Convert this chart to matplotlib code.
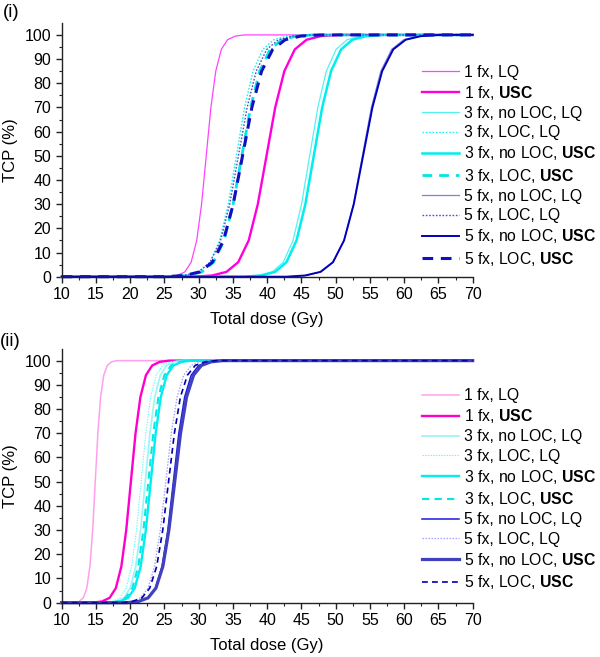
import matplotlib
matplotlib.use("Agg")
import matplotlib.pyplot as plt
from matplotlib.ticker import MultipleLocator

plt.rcParams['font.family'] = ['Liberation Sans', 'DejaVu Sans']
plt.rcParams['mathtext.fontset'] = 'custom'
plt.rcParams['mathtext.rm'] = 'Liberation Sans'
plt.rcParams['mathtext.bf'] = 'Liberation Sans:bold'

# ---------------- data ----------------
# TCP levels (%) shared by every curve; each dose list gives the total dose (Gy)
# at which the curve reaches these TCP levels.
tcp_levels = [0, 0, 0.5, 2, 6, 15, 30, 50, 70, 85, 94, 98, 99.5, 100, 100]

labels = ["1 fx, LQ", r"1 fx, $\mathbf{USC}$",
          "3 fx, no LOC, LQ", "3 fx, LOC, LQ",
          r"3 fx, no LOC, $\mathbf{USC}$", r"3 fx, LOC, $\mathbf{USC}$",
          "5 fx, no LOC, LQ", "5 fx, LOC, LQ",
          r"5 fx, no LOC, $\mathbf{USC}$", r"5 fx, LOC, $\mathbf{USC}$"]

# panel (i)
dose_i_1fx_lq = [10, 25.5, 26.87, 27.99, 28.9, 29.71, 30.42, 31.1, 31.78, 32.49, 33.3, 34.21, 35.33, 36.7, 70]
dose_i_1fx_usc = [10, 29.4, 31.96, 34.06, 35.77, 37.3, 38.63, 39.9, 41.17, 42.5, 44.03, 45.74, 47.84, 50.4, 70]
dose_i_3fx_noloc_lq = [10, 36.4, 38.79, 40.75, 42.35, 43.77, 45.01, 46.2, 47.39, 48.63, 50.05, 51.65, 53.61, 56.0, 70]
dose_i_3fx_loc_lq = [10, 25.7, 28.09, 30.05, 31.65, 33.07, 34.31, 35.5, 36.69, 37.93, 39.35, 40.95, 42.91, 45.3, 70]
dose_i_3fx_noloc_usc = [10, 36.65, 39.13, 41.16, 42.81, 44.28, 45.57, 46.8, 48.03, 49.32, 50.79, 52.44, 54.47, 56.95, 70]
dose_i_3fx_loc_usc = [10, 25.8, 28.36, 30.46, 32.17, 33.7, 35.03, 36.3, 37.57, 38.9, 40.43, 42.14, 44.24, 46.8, 70]
dose_i_5fx_noloc_lq = [10, 43.05, 45.7, 47.87, 49.64, 51.21, 52.59, 53.9, 55.21, 56.59, 58.16, 59.93, 62.1, 64.75, 70]
dose_i_5fx_loc_lq = [10, 25.3, 27.86, 29.96, 31.67, 33.2, 34.53, 35.8, 37.07, 38.4, 39.93, 41.64, 43.74, 46.3, 70]
dose_i_5fx_noloc_usc = [10, 42.8, 45.54, 47.78, 49.6, 51.22, 52.64, 54.0, 55.36, 56.78, 58.4, 60.22, 62.46, 65.2, 70]
dose_i_5fx_loc_usc = [10, 25.2, 27.94, 30.18, 32.0, 33.62, 35.04, 36.4, 37.76, 39.18, 40.8, 42.62, 44.86, 47.6, 70]

# panel (ii)
dose_ii_1fx_lq = [10, 11.75, 12.52, 13.15, 13.66, 14.12, 14.52, 14.9, 15.28, 15.68, 16.14, 16.65, 17.28, 18.05, 70]
dose_ii_1fx_usc = [10, 14.5, 15.87, 16.99, 17.9, 18.71, 19.42, 20.1, 20.78, 21.49, 22.3, 23.21, 24.33, 25.7, 70]
dose_ii_3fx_noloc_lq = [10, 16.6, 17.97, 19.09, 20.0, 20.81, 21.52, 22.2, 22.88, 23.59, 24.4, 25.31, 26.43, 27.8, 70]
dose_ii_3fx_loc_lq = [10, 16.0, 17.37, 18.49, 19.4, 20.21, 20.92, 21.6, 22.28, 22.99, 23.8, 24.71, 25.83, 27.2, 70]
dose_ii_3fx_noloc_usc = [10, 17.05, 18.5, 19.69, 20.66, 21.53, 22.28, 23.0, 23.72, 24.47, 25.34, 26.31, 27.5, 28.95, 70]
dose_ii_3fx_loc_usc = [10, 16.7, 18.15, 19.34, 20.31, 21.18, 21.93, 22.65, 23.37, 24.12, 24.99, 25.96, 27.15, 28.6, 70]
dose_ii_5fx_noloc_lq = [10, 19.65, 21.27, 22.6, 23.69, 24.65, 25.5, 26.3, 27.1, 27.95, 28.91, 30.0, 31.33, 32.95, 70]
dose_ii_5fx_loc_lq = [10, 18.55, 20.17, 21.5, 22.59, 23.55, 24.4, 25.2, 26.0, 26.85, 27.81, 28.9, 30.23, 31.85, 70]
dose_ii_5fx_noloc_usc = [10, 19.5, 21.21, 22.61, 23.75, 24.77, 25.65, 26.5, 27.35, 28.23, 29.25, 30.39, 31.79, 33.5, 70]
dose_ii_5fx_loc_usc = [10, 18.6, 20.31, 21.71, 22.85, 23.87, 24.75, 25.6, 26.45, 27.33, 28.35, 29.49, 30.89, 32.6, 70]

doses_i = [dose_i_1fx_lq, dose_i_1fx_usc, dose_i_3fx_noloc_lq, dose_i_3fx_loc_lq,
           dose_i_3fx_noloc_usc, dose_i_3fx_loc_usc, dose_i_5fx_noloc_lq,
           dose_i_5fx_loc_lq, dose_i_5fx_noloc_usc, dose_i_5fx_loc_usc]
doses_ii = [dose_ii_1fx_lq, dose_ii_1fx_usc, dose_ii_3fx_noloc_lq, dose_ii_3fx_loc_lq,
            dose_ii_3fx_noloc_usc, dose_ii_3fx_loc_usc, dose_ii_5fx_noloc_lq,
            dose_ii_5fx_loc_lq, dose_ii_5fx_noloc_usc, dose_ii_5fx_loc_usc]

# ---------------- styles ----------------
dotted = (0, (1.2, 1.2))
dashed = (0, (3.5, 2.5))
styles_i = [
    dict(color='#FF44FF', lw=0.9, ls='-'),
    dict(color='#FF00DD', lw=1.7, ls='-'),
    dict(color='#55F2F2', lw=0.9, ls='-'),
    dict(color='#22F0F0', lw=1.0, ls=dotted),
    dict(color='#00EEEE', lw=1.8, ls='-'),
    dict(color='#00E5E5', lw=2.0, ls=dashed),
    dict(color='#8080E0', lw=0.9, ls='-'),
    dict(color='#5050C8', lw=1.0, ls=dotted),
    dict(color='#0000BB', lw=1.4, ls='-'),
    dict(color='#1010C0', lw=2.2, ls=dashed),
]
styles_ii = [
    dict(color='#FFA0EE', lw=1.1, ls='-'),
    dict(color='#FF00CC', lw=1.7, ls='-'),
    dict(color='#A0F4F4', lw=1.3, ls='-'),
    dict(color='#66F8F8', lw=0.8, ls=dotted),
    dict(color='#00EEEE', lw=1.7, ls='-'),
    dict(color='#00E8E8', lw=1.5, ls=dashed),
    dict(color='#1A1AE0', lw=1.1, ls='-'),
    dict(color='#A0A0FF', lw=0.9, ls=dotted),
    dict(color='#4040C0', lw=2.3, ls='-'),
    dict(color='#0000B0', lw=1.2, ls=dashed),
]

W, H = 600, 657
fig = plt.figure(figsize=(W / 100, H / 100), dpi=100)

def px_axes(left, right, top, bottom):
    return fig.add_axes([left / W, 1 - bottom / H, (right - left) / W, (bottom - top) / H])

ax1 = px_axes(61.7, 472.7, 23.3, 276.7)
ax2 = px_axes(61.7, 472.7, 349.0, 602.7)

def draw(ax, doses, styles, leg_top):
    for d, st, lab in zip(doses, styles, labels):
        ax.plot(d, tcp_levels, label=lab, clip_on=False, **st)
    ax.set_xlim(10, 70)
    ax.set_ylim(0, 104.8)
    ax.xaxis.set_major_locator(MultipleLocator(5))
    ax.xaxis.set_minor_locator(MultipleLocator(2.5))
    ax.set_yticks(range(0, 101, 10))
    ax.yaxis.set_minor_locator(MultipleLocator(5))
    for s in ['top', 'right']:
        ax.spines[s].set_visible(False)
    for s in ['left', 'bottom']:
        ax.spines[s].set_linewidth(1.0)
        ax.spines[s].set_color('#222222')
    ax.tick_params(which='major', direction='out', length=4, width=1.0,
                   labelsize=11.5, pad=3.5, colors='#222222', labelcolor='black')
    ax.tick_params(which='minor', direction='out', length=2.5, width=0.8, colors='#222222')
    ax.set_xlabel("Total dose (Gy)", fontsize=12, labelpad=7)
    ax.set_ylabel("TCP (%)", fontsize=12, labelpad=5)
    ax.legend(loc='upper left', bbox_to_anchor=(422 / W, 1 - leg_top / H),
              bbox_transform=fig.transFigure, frameon=False, fontsize=11.3,
              handlelength=2.35, handletextpad=0.3, labelspacing=0.27,
              borderpad=0, borderaxespad=0)

draw(ax1, doses_i, styles_i, 64.5)
draw(ax2, doses_ii, styles_ii, 388.0)

fig.text(3 / W, 1 - 4 / H, "(i)", fontsize=13.5, ha='left', va='top')
fig.text(0 / W, 1 - 333 / H, "(ii)", fontsize=13.5, ha='left', va='top')

fig.savefig("out.png", dpi=100)
